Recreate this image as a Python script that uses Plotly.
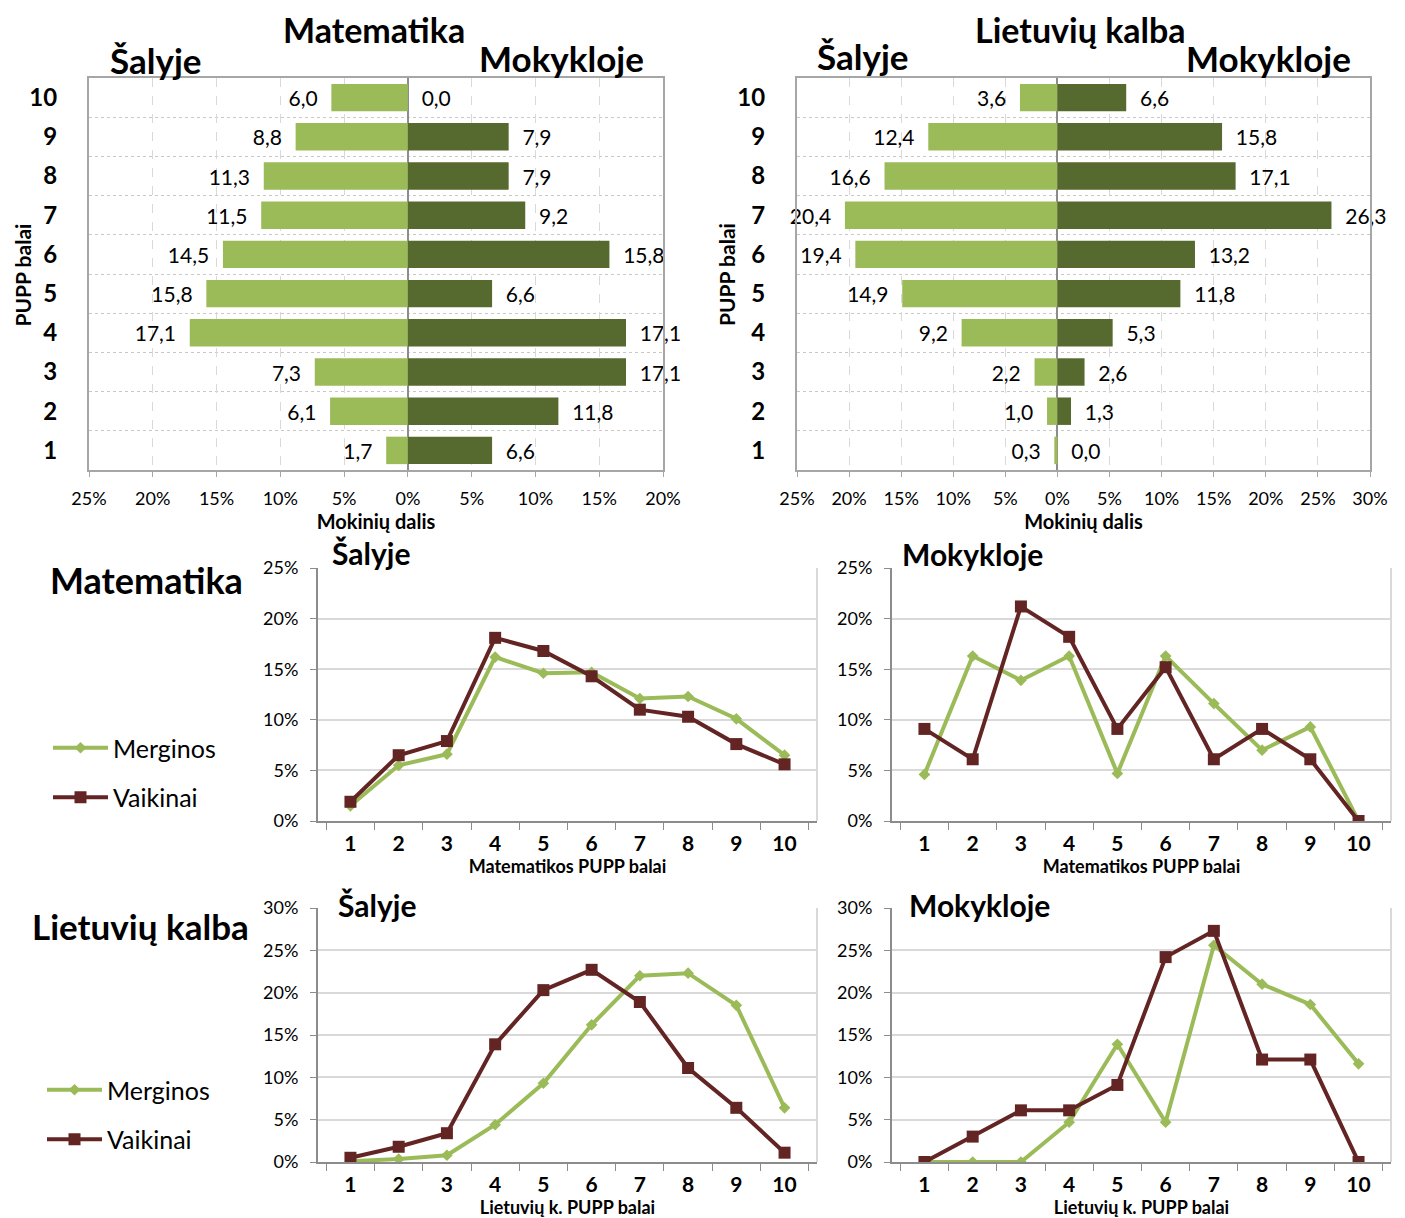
import plotly.graph_objects as go

# the page puts the figure 8px in from the window's top-left corner
W, H = 1405, 1218
OFF = 8
FW, FH = W - OFF, H - OFF
FONT = "Lato"

# PUPP balai 1..10
scores = [str(i) for i in range(1, 11)]
score_pos = list(range(1, 11))

# Top bar charts: share of students (%) for PUPP score 1..10
mat_salyje = [1.7, 6.1, 7.3, 17.1, 15.8, 14.5, 11.5, 11.3, 8.8, 6.0]
mat_mokykloje = [6.6, 11.8, 17.1, 17.1, 6.6, 15.8, 9.2, 7.9, 7.9, 0.0]
lt_salyje = [0.3, 1.0, 2.2, 9.2, 14.9, 19.4, 20.4, 16.6, 12.4, 3.6]
lt_mokykloje = [0.0, 1.3, 2.6, 5.3, 11.8, 13.2, 26.3, 17.1, 15.8, 6.6]

# Line charts: girls / boys
mat_sal_merg = [1.5, 5.5, 6.6, 16.2, 14.6, 14.7, 12.1, 12.3, 10.1, 6.5]
mat_sal_vaik = [1.9, 6.5, 7.9, 18.1, 16.8, 14.3, 11.0, 10.3, 7.6, 5.6]
mat_mok_merg = [4.6, 16.3, 13.9, 16.3, 4.7, 16.3, 11.6, 7.0, 9.3, 0.0]
mat_mok_vaik = [9.1, 6.1, 21.2, 18.2, 9.1, 15.2, 6.1, 9.1, 6.1, 0.0]
lt_sal_merg = [0.1, 0.35, 0.8, 4.4, 9.3, 16.2, 22.0, 22.3, 18.5, 6.4]
lt_sal_vaik = [0.5, 1.8, 3.4, 13.9, 20.3, 22.7, 18.9, 11.1, 6.4, 1.1]
lt_mok_merg = [0.0, 0.0, 0.0, 4.7, 13.9, 4.7, 25.6, 21.0, 18.6, 11.6]
lt_mok_vaik = [0.0, 3.0, 6.1, 6.1, 9.1, 24.2, 27.3, 12.1, 12.1, 0.0]

LIGHT = "#9BBB59"
DARK = "#56692E"
BROWN = "#632523"
AXIS = "#8C8C8C"
GRID = "#D9D9D9"


def px(x):
    return (x - OFF) / FW


def py(y):
    return 1 - (y - OFF) / FH


def dx(x0, x1):
    return [px(x0), px(x1)]


def dy(y0, y1):
    return [py(y1), py(y0)]


def fmt(v):
    return f"{v:.1f}".replace(".", ",")


fig = go.Figure()

# ---- bar charts
for n, (left, right) in zip((1, 2), ((mat_salyje, mat_mokykloje), (lt_salyje, lt_mokykloje))):
    xa = "x" if n == 1 else f"x{n}"
    ya = "y" if n == 1 else f"y{n}"
    fig.add_trace(go.Bar(
        y=score_pos, x=[-v for v in left], orientation="h",
        marker=dict(color=LIGHT, line=dict(width=0)),
        text=[fmt(v) + "\u00a0\u00a0" for v in left], textposition="outside",
        textfont=dict(family=FONT, size=21, color="black"),
        cliponaxis=False, showlegend=False, xaxis=xa, yaxis=ya,
    ))
    fig.add_trace(go.Bar(
        y=score_pos, x=right, orientation="h",
        marker=dict(color=DARK, line=dict(width=0)),
        text=["\u00a0\u00a0" + fmt(v) for v in right], textposition="outside",
        textfont=dict(family=FONT, size=21, color="black"),
        cliponaxis=False, showlegend=False, xaxis=xa, yaxis=ya,
    ))

# ---- line charts
line_sets = [
    (3, mat_sal_merg, mat_sal_vaik, "legend", True),
    (4, mat_mok_merg, mat_mok_vaik, "legend", False),
    (5, lt_sal_merg, lt_sal_vaik, "legend2", True),
    (6, lt_mok_merg, lt_mok_vaik, "legend2", False),
]
for n, merg, vaik, leg, show in line_sets:
    fig.add_trace(go.Scatter(
        x=scores, y=merg, mode="lines+markers", name="Merginos",
        line=dict(color=LIGHT, width=4),
        marker=dict(symbol="diamond", size=9, color=LIGHT),
        xaxis=f"x{n}", yaxis=f"y{n}", legend=leg, showlegend=show,
        legendgroup=f"m{leg}",
    ))
    fig.add_trace(go.Scatter(
        x=scores, y=vaik, mode="lines+markers", name="Vaikinai",
        line=dict(color=BROWN, width=4),
        marker=dict(symbol="square", size=12, color=BROWN),
        xaxis=f"x{n}", yaxis=f"y{n}", legend=leg, showlegend=show,
        legendgroup=f"v{leg}",
    ))
    # light right-hand frame of the line chart
    fig.add_shape(type="line", xref=f"x{n} domain", yref=f"y{n} domain",
                  x0=1, x1=1, y0=0, y1=1, line=dict(color=GRID, width=2),
                  layer="below")

bar_y = dy(78, 470)


def bar_xaxis(dom, lo, hi, anchor):
    vals = list(range(lo, hi + 1, 5))
    return dict(
        domain=dom, anchor=anchor, range=[lo, hi], tickvals=vals,
        ticktext=[f"{abs(v)}%" for v in vals], automargin=False,
        tickfont=dict(family=FONT, size=18, color="black"),
        showgrid=True, gridcolor=GRID, griddash="dash", gridwidth=1,
        zeroline=True, zerolinecolor=AXIS, zerolinewidth=2,
        showline=True, linecolor="#A6A6A6", linewidth=2, mirror=True,
        ticks="outside", ticklen=5, tickcolor="#A6A6A6", ticklabelstandoff=6,
        title=dict(text="Mokinių dalis", standoff=7,
                   font=dict(family=FONT, size=20, color="black", weight="bold")),
        fixedrange=True,
    )


def bar_yaxis(anchor):
    return dict(
        domain=bar_y, anchor=anchor, range=[0.5, 10.5], automargin=False,
        tickvals=score_pos, ticktext=scores,
        tickfont=dict(family=FONT, size=24, color="black", weight="bold"),
        showgrid=False, zeroline=False,
        showline=True, linecolor="#A6A6A6", linewidth=2, mirror=True,
        ticks="", ticklabelstandoff=25,
        minor=dict(tickvals=[i + 0.5 for i in range(1, 10)], showgrid=True,
                   gridcolor="#C8C8C8", griddash="dot", gridwidth=1, ticks=""),
        fixedrange=True,
    )


def line_xaxis(dom, anchor, title):
    return dict(
        domain=dom, anchor=anchor, type="category", tickson="boundaries",
        ticks="outside", ticklen=7, tickcolor=AXIS, automargin=False,
        showline=True, linecolor=AXIS, linewidth=2, showgrid=False,
        ticklabelstandoff=3,
        tickfont=dict(family=FONT, size=21, color="black", weight="bold"),
        title=dict(text=title, standoff=3,
                   font=dict(family=FONT, size=18, color="black", weight="bold")),
        fixedrange=True,
    )


def line_yaxis(dom, anchor, top):
    vals = list(range(0, top + 1, 5))
    return dict(
        domain=dom, anchor=anchor, range=[0, top], tickvals=vals,
        ticktext=[f"{v}%" for v in vals], automargin=False,
        tickfont=dict(family=FONT, size=18, color="black"),
        showgrid=True, gridcolor=GRID, gridwidth=2, zeroline=False,
        showline=True, linecolor=AXIS, linewidth=2, ticks="outside", ticklen=6,
        tickcolor=AXIS, ticklabelstandoff=8, fixedrange=True,
    )


mat_y = dy(568, 821)
lt_y = dy(908, 1162)

fig.update_layout(
    width=FW, height=FH, margin=dict(l=0, r=0, t=0, b=0, autoexpand=False),
    paper_bgcolor="white", plot_bgcolor="white",
    barmode="relative", bargap=0.3,
    font=dict(family=FONT, color="black"),
    xaxis=bar_xaxis(dx(89, 663), -25, 20, "y"),
    yaxis=bar_yaxis("x"),
    xaxis2=bar_xaxis(dx(797, 1370), -25, 30, "y2"),
    yaxis2=bar_yaxis("x2"),
    xaxis3=line_xaxis(dx(318, 817), "y3", "Matematikos PUPP balai"),
    yaxis3=line_yaxis(mat_y, "x3", 25),
    xaxis4=line_xaxis(dx(892, 1391), "y4", "Matematikos PUPP balai"),
    yaxis4=line_yaxis(mat_y, "x4", 25),
    xaxis5=line_xaxis(dx(318, 817), "y5", "Lietuvių k. PUPP balai"),
    yaxis5=line_yaxis(lt_y, "x5", 30),
    xaxis6=line_xaxis(dx(892, 1391), "y6", "Lietuvių k. PUPP balai"),
    yaxis6=line_yaxis(lt_y, "x6", 30),
    legend=dict(x=px(48), y=py(725), xanchor="left", yanchor="top",
                font=dict(family=FONT, size=25, color="black"),
                itemwidth=55, tracegroupgap=14, traceorder="grouped",
                bgcolor="rgba(0,0,0,0)"),
    legend2=dict(x=px(42), y=py(1067), xanchor="left", yanchor="top",
                 font=dict(family=FONT, size=25, color="black"),
                 itemwidth=55, tracegroupgap=14, traceorder="grouped",
                 bgcolor="rgba(0,0,0,0)"),
)


def label(text, x, y, size, bg=None, angle=0, xanchor="center", yanchor="middle", pad=4):
    fig.add_annotation(
        text=text, x=x, y=y, xref="paper", yref="paper",
        showarrow=False, textangle=angle, xanchor=xanchor, yanchor=yanchor,
        font=dict(family=FONT, size=size, color="black", weight="bold"),
        bgcolor=bg, borderpad=pad,
    )


label("Matematika", px(374), 1, 34, yanchor="top", pad=0)
label("Lietuvių kalba", px(1080), 1, 34, yanchor="top", pad=0)
label("Šalyje", px(155), py(60), 35, pad=0)
label("Mokykloje", px(561), py(58), 35, pad=0)
label("Šalyje", px(862), py(56), 35, pad=0)
label("Mokykloje", px(1268), py(58), 35, pad=0)
label("PUPP balai", 0, py(275), 21, angle=-90, xanchor="left", pad=0)
label("PUPP balai", px(726), py(275), 21, angle=-90, pad=0)

label("Matematika", px(146), py(580), 36, pad=0)
label("Lietuvių kalba", px(140), py(926), 35, pad=0)
# white boxes break the top gridline, as in the original
label("Šalyje", px(371), py(553), 30, bg="white", pad=0)
label("Mokykloje", px(972), py(554), 30, bg="white", pad=0)
label("Šalyje", px(377), py(905), 30, bg="white", pad=0)
label("Mokykloje", px(979), py(905), 30, bg="white", pad=0)

fig.write_html("out.html")
